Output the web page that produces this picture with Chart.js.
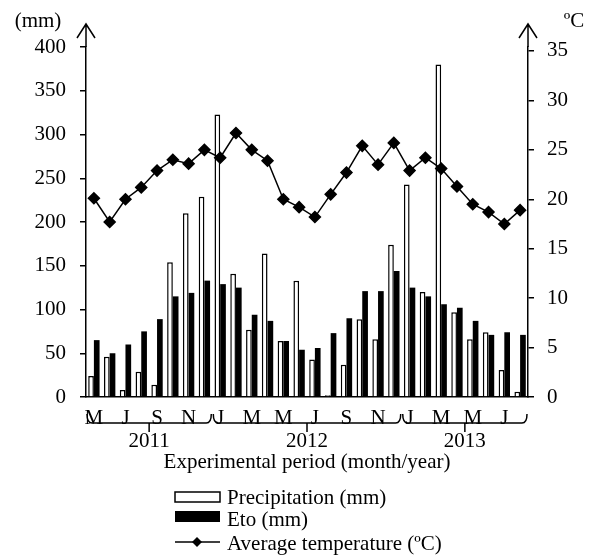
<!DOCTYPE html>
<html>
<head>
<meta charset="utf-8">
<script src="https://cdn.jsdelivr.net/npm/chart.js@4/dist/chart.umd.min.js"></script>
<style>
  html, body { margin: 0; padding: 0; background: #fff; }
</style>
</head>
<body>
<canvas id="mChart" width="592" height="560"></canvas>
<script>
// months May 2011 .. Aug 2013
var months = ['May11','Jun11','Jul11','Aug11','Sep11','Oct11','Nov11','Dec11',
              'Jan12','Feb12','Mar12','Apr12','May12','Jun12','Jul12','Aug12','Sep12','Oct12','Nov12','Dec12',
              'Jan13','Feb13','Mar13','Apr13','May13','Jun13','Jul13','Aug13'];
var monthLetters = ['M','','J','','S','','N','','J','','M','','M','','J','','S','','N','','J','','M','','M','','J',''];

var precip = [24, 46, 8, 29, 14, 154, 210, 229, 323, 141, 77, 164, 64, 133, 43, 2, 37, 89, 66, 174, 243, 120, 380, 97, 66, 74, 31, 6];
var eto    = [65, 50, 60, 75, 89, 115, 119, 133, 129, 125, 94, 87, 64, 54, 56, 73, 90, 121, 121, 144, 125, 115, 106, 102, 87, 71, 74, 71];
var temp   = [20.1, 17.7, 20.0, 21.2, 22.9, 24.0, 23.6, 25.0, 24.2, 26.7, 25.0, 23.9, 20.0, 19.2, 18.2, 20.5, 22.7, 25.4, 23.5, 25.7, 22.9, 24.2, 23.1, 21.3, 19.5, 18.7, 17.5, 18.9];

// year groups (start / end month index)
var years = ['2011', '2012', '2013'];
var yearStart = [0, 8, 20];
var yearEnd = [8, 20, 28];

var mmTicks = [0, 50, 100, 150, 200, 250, 300, 350, 400];
var tempTicks = [0, 5, 10, 15, 20, 25, 30, 35];

var FONT = "'Liberation Serif', 'Times New Roman', serif";
var FS = 21;
Chart.defaults.font.family = FONT;
Chart.defaults.font.size = FS;
Chart.defaults.color = '#000';

// arrows, braces, years, axis title, legend
var extras = {
    id: 'extras',
    afterDraw: function(chart) {
        var c = chart.ctx;
        var a = chart.chartArea;
        var xs = chart.scales.x;
        var w = (xs.right - xs.left) / months.length;
        c.save();
        c.strokeStyle = '#000';
        c.fillStyle = '#000';
        c.lineWidth = 1.5;

        // axis arrows
        [a.left, a.right].forEach(function(x) {
            c.beginPath();
            c.moveTo(x, a.top);
            c.lineTo(x, 24);
            c.moveTo(x - 9, 38);
            c.lineTo(x, 24);
            c.lineTo(x + 9, 38);
            c.stroke();
        });

        c.font = FS + 'px ' + FONT;
        c.textBaseline = 'middle';
        c.textAlign = 'center';
        c.fillText('(mm)', 38, 21);
        c.fillText('ºC', 574, 21);

        // braces under the month letters
        for (var i = 0; i < years.length; i++) {
            var x0 = xs.left + yearStart[i] * w + 1;
            var x1 = xs.left + yearEnd[i] * w - 1;
            var mid = (x0 + x1) / 2;
            c.beginPath();
            c.moveTo(x0, 414);
            c.quadraticCurveTo(x0, 423, x0 + 5, 423);
            c.lineTo(x1 - 5, 423);
            c.quadraticCurveTo(x1, 423, x1, 414);
            c.moveTo(mid, 423);
            c.lineTo(mid, 432);
            c.stroke();
            c.fillText(years[i], mid, 441);
        }
        c.fillText('Experimental period (month/year)', (a.left + a.right) / 2, 462);

        // legend
        c.textAlign = 'left';
        c.fillStyle = '#fff';
        c.fillRect(175, 492, 45, 10);
        c.strokeRect(175, 492, 45, 10);
        c.fillStyle = '#000';
        c.fillText('Precipitation (mm)', 227, 498);
        c.fillRect(175, 511, 45, 11);
        c.fillText('Eto (mm)', 227, 520);
        c.beginPath();
        c.moveTo(175, 542);
        c.lineTo(220, 542);
        c.stroke();
        c.beginPath();
        c.moveTo(197, 537);
        c.lineTo(202, 542);
        c.lineTo(197, 547);
        c.lineTo(192, 542);
        c.closePath();
        c.fill();
        c.fillText('Average temperature (ºC)', 227, 544);
        c.restore();
    }
};

var ctx = document.getElementById('mChart');
var myChart = new Chart(ctx, {
    type: 'bar',
    data: {
        labels: months,
        datasets: [
            {
                type: 'line',
                label: 'Average temperature (ºC)',
                data: temp,
                yAxisID: 'y1',
                borderColor: '#000',
                backgroundColor: '#000',
                borderWidth: 1.5,
                pointStyle: 'rectRot',
                pointRadius: 5.5,
                pointBackgroundColor: '#000',
                pointBorderColor: '#000',
                tension: 0,
                order: 0
            },
            {
                label: 'Precipitation (mm)',
                data: precip,
                yAxisID: 'y',
                backgroundColor: '#fff',
                borderColor: '#000',
                borderWidth: 1.5,
                categoryPercentage: 0.72,
                barPercentage: 1.0,
                order: 1
            },
            {
                label: 'Eto (mm)',
                data: eto,
                yAxisID: 'y',
                backgroundColor: '#000',
                borderColor: '#000',
                borderWidth: 0,
                categoryPercentage: 0.72,
                barPercentage: 1.0,
                order: 1
            }
        ]
    },
    options: {
        responsive: false,
        animation: false,
        devicePixelRatio: 1,
        layout: { padding: { top: 47, left: 0, right: 0, bottom: 0 } },
        plugins: {
            legend: { display: false },
            tooltip: { enabled: false }
        },
        scales: {
            x: {
                grid: { display: false },
                border: { display: true, color: '#000', width: 1.5 },
                ticks: {
                    autoSkip: false,
                    maxRotation: 0,
                    padding: 1,
                    callback: function(v, i) { return monthLetters[i]; }
                },
                afterFit: function(s) { s.height = 163; }
            },
            y: {
                position: 'left',
                min: 0,
                max: 400,
                grid: { display: true, drawOnChartArea: false, drawTicks: true, tickLength: 6, color: '#000', lineWidth: 1.5 },
                border: { display: true, color: '#000', width: 1.5 },
                ticks: { padding: 14 },
                afterBuildTicks: function(s) { s.ticks = mmTicks.map(function(v) { return { value: v }; }); },
                afterFit: function(s) { s.width = 86; }
            },
            y1: {
                position: 'right',
                min: 0,
                max: 35.4,
                grid: { display: true, drawOnChartArea: false, drawTicks: true, tickLength: 6, color: '#000', lineWidth: 1.5 },
                border: { display: true, color: '#000', width: 1.5 },
                ticks: { padding: 13 },
                afterBuildTicks: function(s) { s.ticks = tempTicks.map(function(v) { return { value: v }; }); },
                afterFit: function(s) { s.width = 64; }
            }
        }
    },
    plugins: [extras]
});
</script>
</body>
</html>
